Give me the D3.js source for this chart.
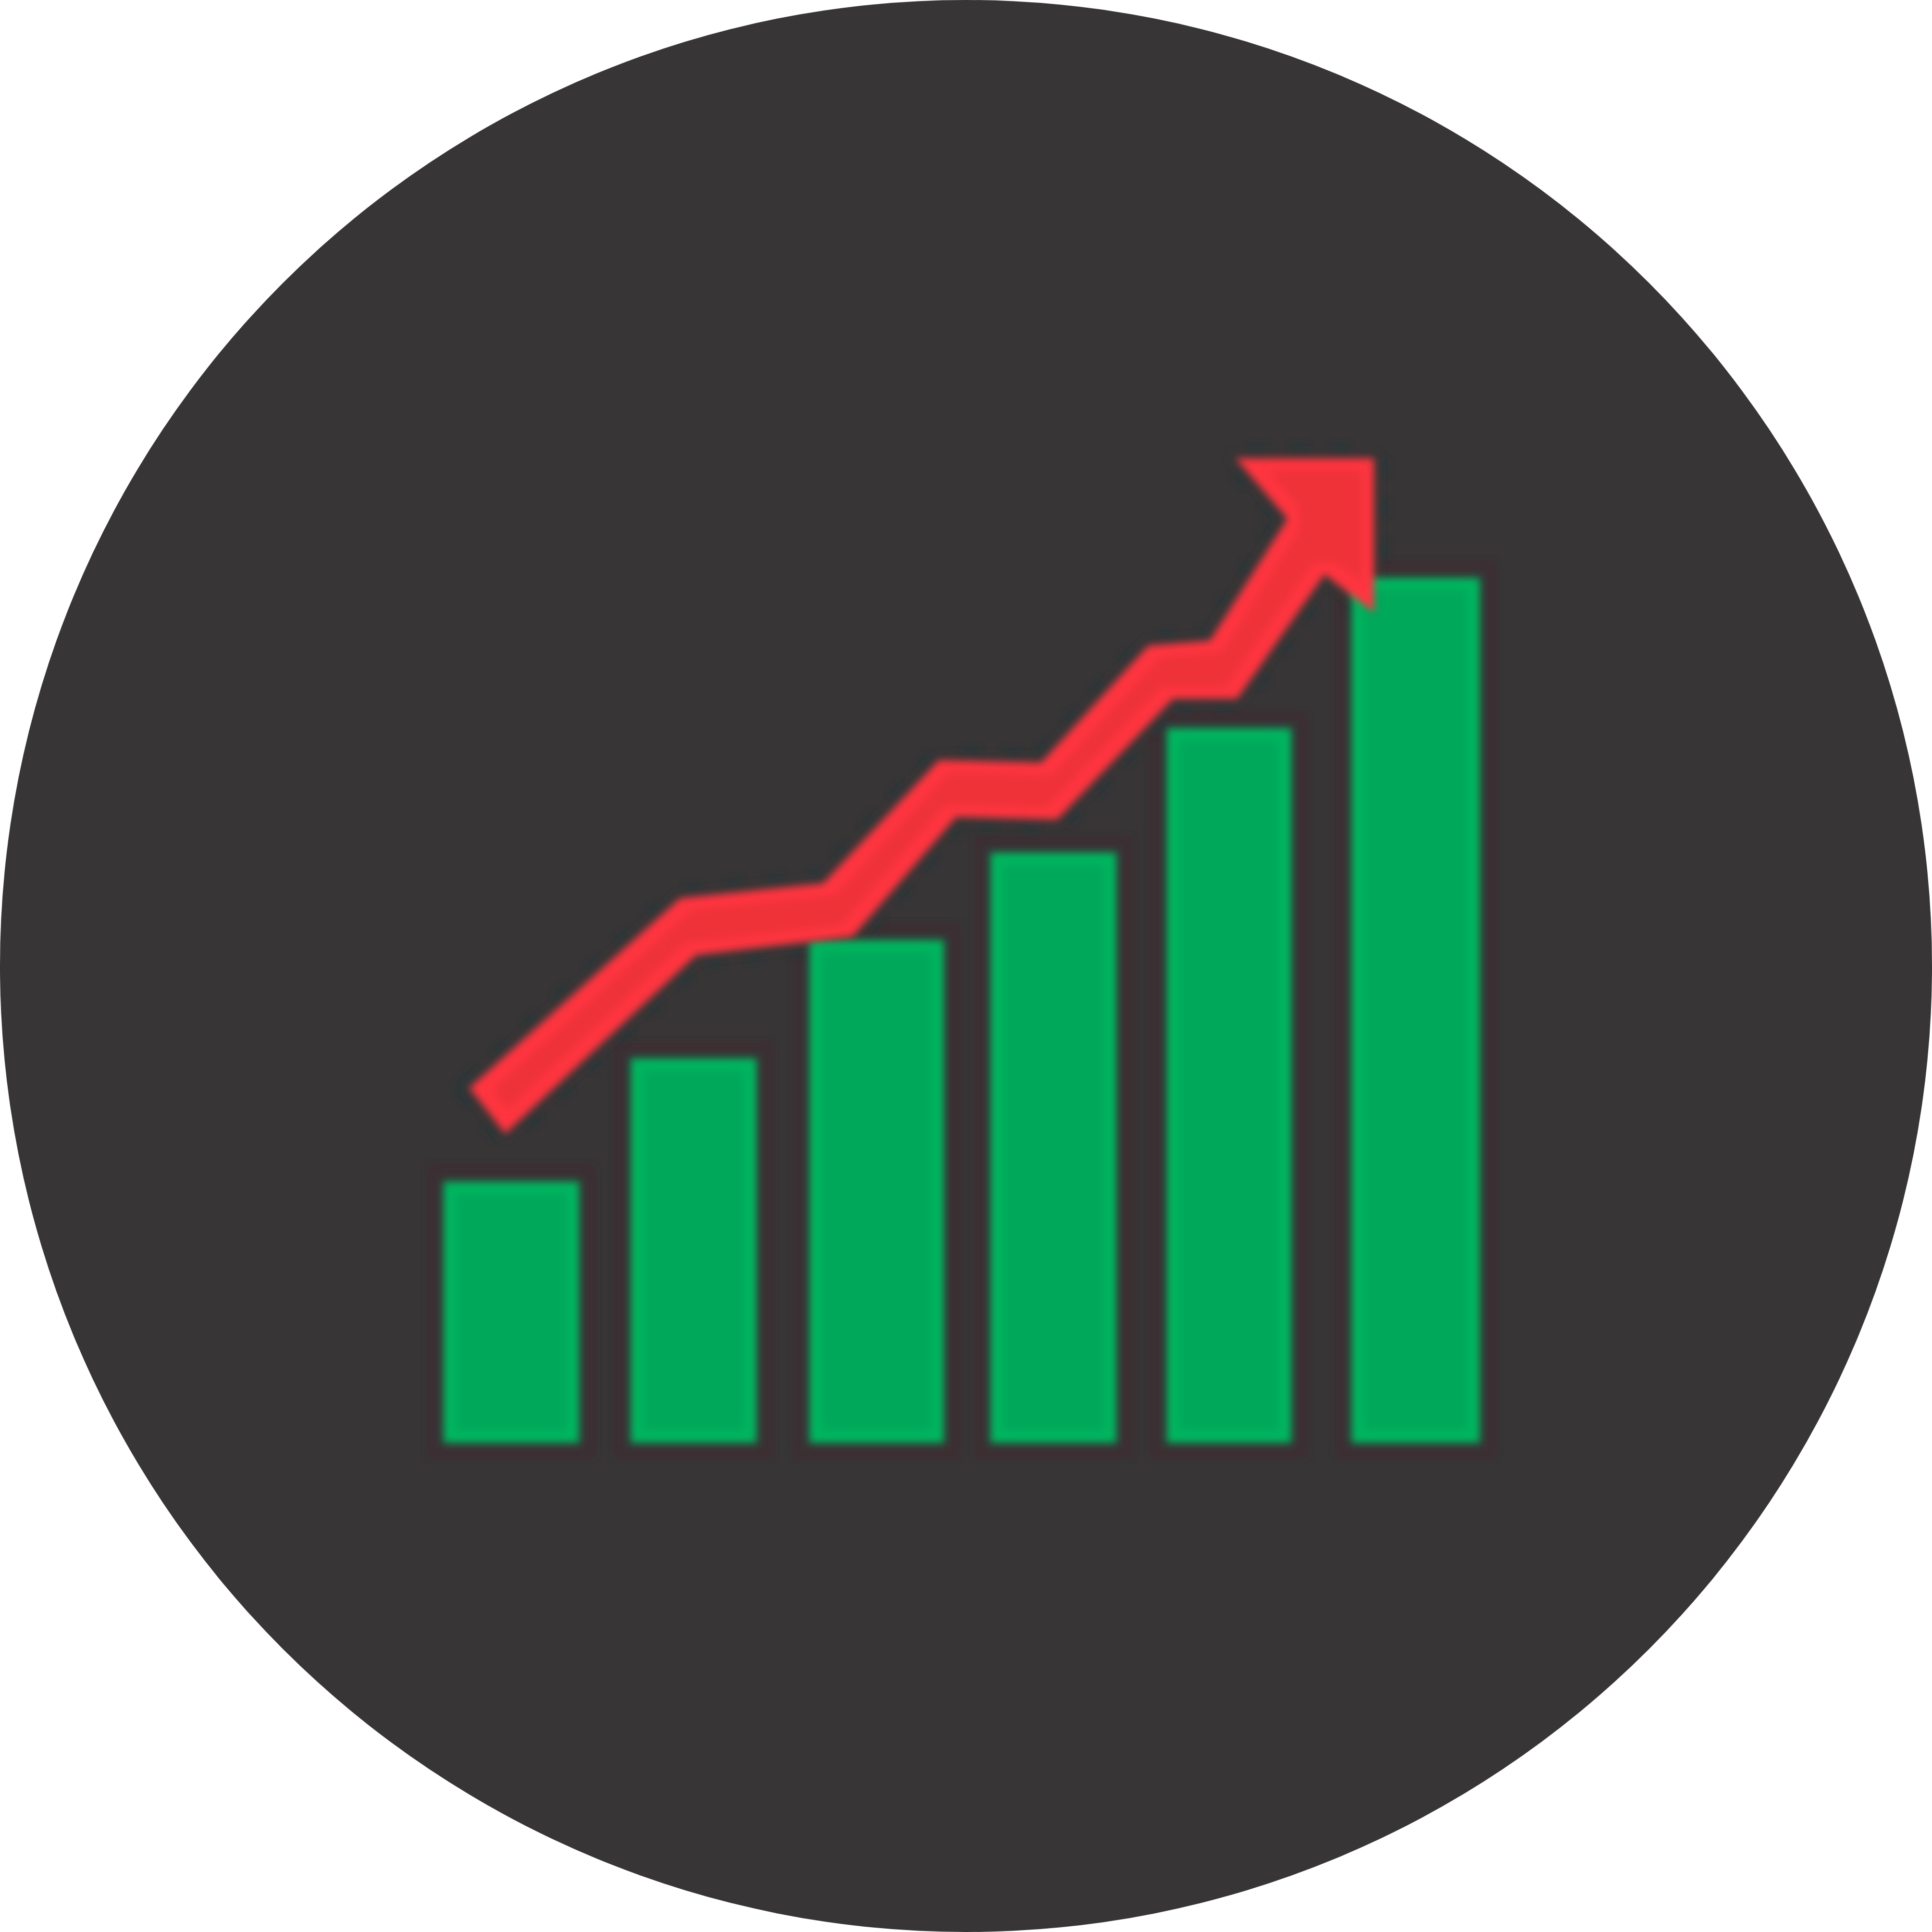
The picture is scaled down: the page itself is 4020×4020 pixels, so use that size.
<!DOCTYPE html>
<html>
<head>
<meta charset="utf-8">
<script src="https://cdn.jsdelivr.net/npm/d3@7"></script>
<style>html,body{margin:0;padding:0;background:#fff}svg{display:block}</style>
</head>
<body>
<svg id="chart" width="4020" height="4020"></svg>
<script>
// Data, in picture units (0-1568)
const categories = ["A", "B", "C", "D", "E", "F"];
const barValues = [212, 312, 408, 479, 580, 702];
const arrowX = [381, 552, 668, 762, 845, 932, 982, 1045, 1003, 1115, 1115, 1075, 1004, 952, 858, 776, 692, 565, 410];
const arrowY = [288, 442, 454, 554, 552, 647, 651, 750, 799, 799, 674, 705, 604, 604, 506, 508, 411, 396, 251];

const SIZE = 4020, K = SIZE / 1568, BASE = 1171;
const x = d3.scaleLinear().domain([0, 1568]).range([0, SIZE]);
const y = d3.scaleLinear().domain([0, 1568]).range([BASE * K, (BASE - 1568) * K]);
const band = d3.scaleOrdinal().domain(categories).range([360, 512, 657, 804, 947, 1097]);
const bandW = d3.scaleOrdinal().domain(categories).range([110, 102, 109, 102, 101, 104]);

const svg = d3.select("#chart");
const defs = svg.append("defs");
const blur = (id, s) => defs.append("filter").attr("id", id)
  .attr("x", "-30%").attr("y", "-30%").attr("width", "160%").attr("height", "160%")
  .append("feGaussianBlur").attr("stdDeviation", s);
blur("soft", 8);
blur("halo", 7);
const inner = defs.append("filter").attr("id", "inner")
  .attr("x", "-30%").attr("y", "-30%").attr("width", "160%").attr("height", "160%");
inner.append("feMorphology").attr("operator", "erode").attr("radius", 24);
inner.append("feGaussianBlur").attr("stdDeviation", 10);

svg.append("circle").attr("cx", SIZE / 2).attr("cy", SIZE / 2).attr("r", SIZE / 2).attr("fill", "#373536");

const rows = categories.map((c, i) => ({ c, v: barValues[i] }));
const px = d => x(band(d.c)), pw = d => x(bandW(d.c)) - x(0), py = d => y(d.v), ph = d => y(0) - y(d.v);

// faint dark-red ring around each bar
svg.append("g").attr("filter", "url(#halo)").attr("opacity", 0.7).selectAll("rect").data(rows).join("rect")
  .attr("x", d => px(d) - 26).attr("y", d => py(d) - 26)
  .attr("width", d => pw(d) + 52).attr("height", d => ph(d) + 48)
  .attr("fill", "none").attr("stroke", "#3f2931").attr("stroke-width", 17);

// arrow ring
const arrowPts = arrowX.map((v, i) => [v, arrowY[i]]);
const outline = d3.line().x(d => x(d[0])).y(d => y(d[1])).curve(d3.curveLinearClosed);
svg.append("path").attr("d", outline(arrowPts)).attr("fill", "none")
  .attr("stroke", "#21393b").attr("stroke-width", 58).attr("stroke-linejoin", "round")
  .attr("stroke-dasharray", "34 52").attr("filter", "url(#halo)").attr("opacity", 0.55);
svg.append("path").attr("d", outline(arrowPts)).attr("fill", "#373536")
  .attr("stroke", "#373536").attr("stroke-width", 30).attr("stroke-linejoin", "round").attr("filter", "url(#halo)");

// bars: bright rim, flatter centre
svg.append("g").attr("filter", "url(#soft)").selectAll("rect").data(rows).join("rect")
  .attr("x", px).attr("y", py).attr("width", pw).attr("height", ph).attr("fill", "#00b65e");
svg.append("g").selectAll("rect").data(rows).join("rect")
  .attr("filter", "url(#inner)")
  .attr("x", px).attr("y", py).attr("width", pw).attr("height", ph).attr("fill", "#00a85a");

// arrow body
svg.append("path").attr("d", outline(arrowPts)).attr("fill", "#ff3540").attr("filter", "url(#soft)");
svg.append("path").attr("d", outline(arrowPts)).attr("fill", "#ee3337").attr("filter", "url(#inner)");
</script>
</body>
</html>
